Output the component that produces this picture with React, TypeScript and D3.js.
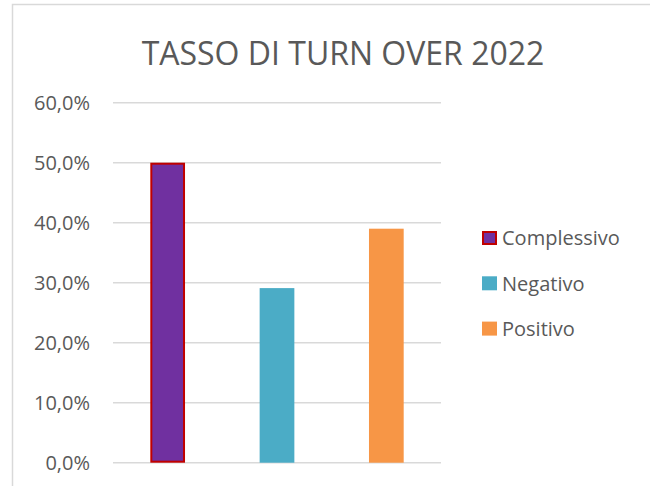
import React from 'react';
import { scaleBand, scaleLinear } from 'd3';

const categories = ['Complessivo', 'Negativo', 'Positivo'];
const values = [0.5, 0.291, 0.39];
const colors = ['#7030A0', '#4BACC6', '#F79646'];
const strokes = ['#C00000', 'none', 'none'];
const ticks = [0, 0.1, 0.2, 0.3, 0.4, 0.5, 0.6];
const title = 'TASSO DI TURN OVER 2022';

const width = 650;
const height = 486;
const plot = { left: 113, right: 441, top: 102.7, bottom: 462.7 };
const font = '"Open Sans", sans-serif';
const textColor = '#595959';

const fmt = (v: number) => (v * 100).toFixed(1).replace('.', ',') + '%';

export default function App() {
  const x = scaleBand<string>().domain(categories).range([plot.left, plot.right]).padding(0);
  const y = scaleLinear().domain([0, 0.6]).range([plot.bottom, plot.top]);
  const barW = x.bandwidth() / 3.15;

  return (
    <svg width={width} height={height} style={{ position: 'absolute', left: 0, top: 0 }}>
      <rect x={0} y={0} width={width} height={height} fill="#fff" />
      <rect x={12.5} y={4.5} width={700} height={600} fill="#fff" stroke="#D9D9D9" strokeWidth={1.5} />

      <text x={343} y={64.5} textAnchor="middle" fontFamily={font} fontSize={32} fill={textColor}>
        {title}
      </text>

      {ticks.map(t => (
        <g key={t}>
          <line x1={plot.left} x2={plot.right} y1={y(t)} y2={y(t)} stroke="#D9D9D9" strokeWidth={1.5} />
          <text x={90} y={y(t)} dy="0.36em" textAnchor="end" fontFamily={font} fontSize={20} fill={textColor}>
            {fmt(t)}
          </text>
        </g>
      ))}

      {categories.map((c, i) => {
        const bx = (x(c) as number) + (x.bandwidth() - barW) / 2;
        const hasStroke = strokes[i] !== 'none';
        return (
          <rect
            key={c}
            x={hasStroke ? bx + 1 : bx}
            y={hasStroke ? y(values[i]) + 1 : y(values[i])}
            width={hasStroke ? barW - 2 : barW}
            height={hasStroke ? y(0) - y(values[i]) - 2 : y(0) - y(values[i])}
            fill={colors[i]}
            stroke={strokes[i]}
            strokeWidth={2}
          />
        );
      })}

      {categories.map((c, i) => {
        const cy = 238 + i * 45.3;
        const hasStroke = strokes[i] !== 'none';
        return (
          <g key={c}>
            <rect
              x={hasStroke ? 483 : 482}
              y={hasStroke ? cy - 6 : cy - 7}
              width={hasStroke ? 13 : 15}
              height={hasStroke ? 12 : 14}
              fill={colors[i]}
              stroke={strokes[i]}
              strokeWidth={2}
            />
            <text x={502} y={cy} dy="0.36em" fontFamily={font} fontSize={20} fill={textColor}>
              {c}
            </text>
          </g>
        );
      })}
    </svg>
  );
}
